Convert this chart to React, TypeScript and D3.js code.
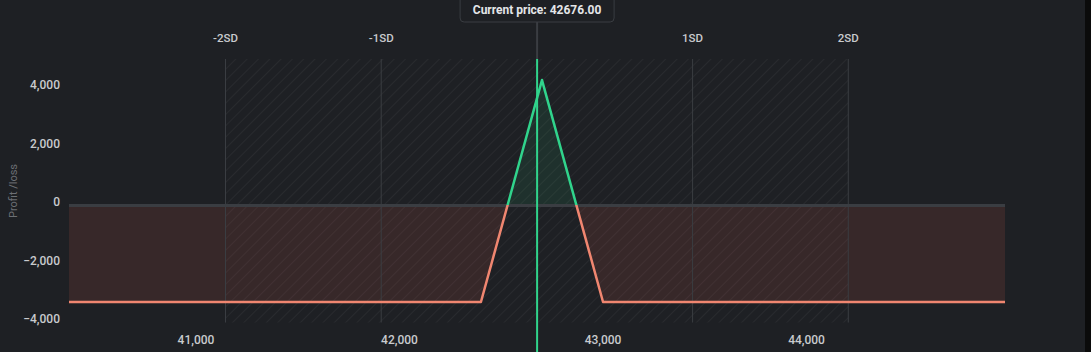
import React from 'react';
import * as d3 from 'd3';

// payoff profile
const prices = [40376, 42400, 42700, 43000, 44975];
const pnl = [-3300, -3300, 4280, -3300, -3300];

const xTicks = [41000, 42000, 43000, 44000];
const yTicks = [-4000, -2000, 0, 2000, 4000];

const sdLabels = ['-2SD', '-1SD', '1SD', '2SD'];
const sdPrices = [41145, 41910, 43440, 44205];

const currentPrice = 42676;

const W = 1085;
const H = 352;
const bg = '#1e2024';
const gridColor = '#3a3d42';
const green = '#30d48c';
const red = '#f08670';
const font = 'Roboto, "Noto Sans", sans-serif';

const App = () => {
  const x = d3.scaleLinear().domain([prices[0], prices[prices.length - 1]]).range([69, 1005]);
  const y = d3.scaleLinear().domain([-4000, 5000]).range([322.5, 59]);
  const top = y(5000);
  const bottom = y(-4000);
  const zeroY = y(0);

  const pts = prices.map((p, i) => ({ p, v: pnl[i] }));

  const line = d3.line<{ p: number; v: number }>()
    .x(d => x(d.p))
    .y(d => y(d.v));

  const area = d3.area<{ p: number; v: number }>()
    .x(d => x(d.p))
    .y0(zeroY)
    .y1(d => y(d.v));

  const zeroOffset = (zeroY - top) / (bottom - top);
  const fmt = d3.format(',');
  const cx = x(currentPrice);

  return (
    <div style={{ position: 'absolute', left: 0, top: 0, background: '#0b0b0b', width: 1091, height: H }}>
      <svg width={W} height={H} style={{ display: 'block', fontFamily: font }}>
        <defs>
          <pattern id="hatch" width="8" height="8" patternUnits="userSpaceOnUse" patternTransform="rotate(45)">
            <line x1="0" y1="0" x2="0" y2="8" stroke="rgba(255,255,255,0.06)" strokeWidth="1.5" />
          </pattern>
          <clipPath id="above">
            <rect x={0} y={top} width={W} height={zeroY - top} />
          </clipPath>
          <clipPath id="below">
            <rect x={0} y={zeroY} width={W} height={bottom - zeroY} />
          </clipPath>
          <linearGradient id="pnlStroke" gradientUnits="userSpaceOnUse" x1="0" y1={top} x2="0" y2={bottom}>
            <stop offset={zeroOffset} stopColor={green} />
            <stop offset={zeroOffset} stopColor={red} />
          </linearGradient>
        </defs>

        <rect x={0} y={0} width={W} height={H} fill={bg} />

        {/* hatched band between -2SD and 2SD */}
        <rect x={x(sdPrices[0])} y={top} width={x(sdPrices[3]) - x(sdPrices[0])} height={bottom - top} fill="url(#hatch)" />

        {/* fills */}
        <path d={area(pts) || ''} fill="rgba(50,210,130,0.1)" clipPath="url(#above)" />
        <path d={area(pts) || ''} fill="rgba(240,95,80,0.12)" clipPath="url(#below)" />

        {/* sd gridlines */}
        {sdPrices.map((p, i) => (
          <g key={sdLabels[i]}>
            <line x1={x(p)} x2={x(p)} y1={top} y2={bottom} stroke={gridColor} strokeWidth={1} />
            <text x={x(p)} y={38} dy="0.35em" textAnchor="middle" fill="#c9cbce" fontSize={11.5} fontWeight={500}>{sdLabels[i]}</text>
          </g>
        ))}

        {/* zero line */}
        <line x1={x.range()[0]} x2={x.range()[1]} y1={zeroY} y2={zeroY} stroke={gridColor} strokeWidth={3} />

        {/* payoff */}
        <path d={line(pts) || ''} fill="none" stroke="url(#pnlStroke)" strokeWidth={2.5} strokeLinejoin="round" />

        {/* current price */}
        <line x1={cx} x2={cx} y1={22} y2={top} stroke={gridColor} strokeWidth={2} />
        <line x1={cx} x2={cx} y1={top} y2={H} stroke={green} strokeWidth={2} />
        <rect x={cx - 77} y={-4} width={154} height={26} rx={4} fill={bg} stroke={gridColor} strokeWidth={1} />
        <text x={cx} y={10} dy="0.35em" textAnchor="middle" fill="#e4e6e8" fontSize={12} fontWeight={700}>
          Current price: {currentPrice.toFixed(2)}
        </text>

        {/* y axis */}
        {yTicks.map(t => (
          <text key={t} x={60} y={y(t) - 3.5} dy="0.35em" textAnchor="end" fill="#c9cbce" fontSize={12} fontWeight={500}>{fmt(t)}</text>
        ))}
        <text transform={`translate(13,191) rotate(-90)`} dy="0.35em" textAnchor="middle" fill="#6c6f74" fontSize={11}>Profit /loss</text>

        {/* x axis */}
        {xTicks.map(t => (
          <text key={t} x={x(t)} y={339.5} dy="0.35em" textAnchor="middle" fill="#c9cbce" fontSize={12} fontWeight={500}>{fmt(t)}</text>
        ))}
      </svg>
    </div>
  );
};

export default App;
